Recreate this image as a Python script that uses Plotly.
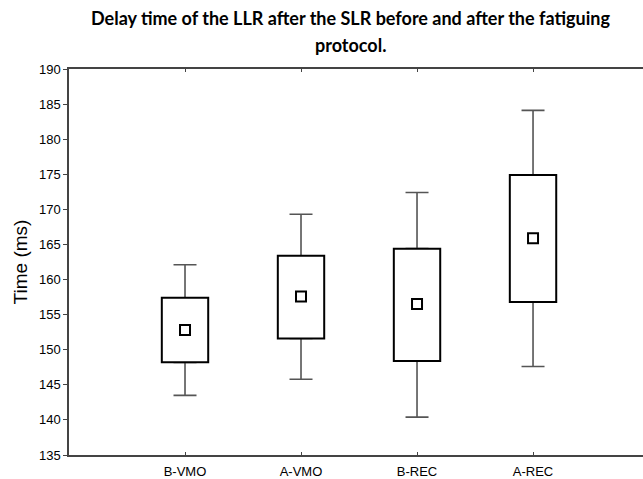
import plotly.graph_objects as go

# Groups and summary statistics (ms)
groups = ["B-VMO", "A-VMO", "B-REC", "A-REC"]
means = [152.8, 157.6, 156.5, 165.9]
box_low = [148.2, 151.6, 148.4, 156.8]
box_high = [157.4, 163.4, 164.4, 174.9]
whisker_low = [143.5, 145.8, 140.4, 147.6]
whisker_high = [162.1, 169.3, 172.4, 184.1]

y_ticks = list(range(135, 191, 5))

box_span = [h - l for h, l in zip(box_high, box_low)]
whisker_color = "#555555"
axis_color = "#444444"

fig = go.Figure()

# Upper whiskers: error bars rising from the top edge of each box
fig.add_trace(go.Bar(
    x=groups, base=box_low, y=box_span, width=0.4,
    marker=dict(color="rgba(0,0,0,0)", line=dict(width=0)),
    error_y=dict(type="data", symmetric=False,
                 array=[w - h for w, h in zip(whisker_high, box_high)],
                 arrayminus=[0] * len(groups),
                 color=whisker_color, thickness=1.6, width=11.5),
    showlegend=False, hoverinfo="skip",
))

# Lower whiskers: error bars falling from the bottom edge of each box
fig.add_trace(go.Bar(
    x=groups, base=box_high, y=[-s for s in box_span], width=0.4,
    marker=dict(color="rgba(0,0,0,0)", line=dict(width=0)),
    error_y=dict(type="data", symmetric=False,
                 array=[0] * len(groups),
                 arrayminus=[l - w for l, w in zip(box_low, whisker_low)],
                 color=whisker_color, thickness=1.6, width=11.5),
    showlegend=False, hoverinfo="skip",
))

# Boxes
fig.add_trace(go.Bar(
    x=groups, base=box_low, y=box_span, width=0.4,
    marker=dict(color="white", line=dict(color="black", width=2)),
    showlegend=False, hoverinfo="skip",
))

# Mean markers
fig.add_trace(go.Scatter(
    x=groups, y=means, mode="markers",
    marker=dict(symbol="square", size=10, color="white",
                line=dict(color="black", width=2)),
    showlegend=False, hoverinfo="skip",
))

title_font = dict(family="Lato, Carlito, sans-serif", size=18, color="black", weight="bold")
plot_h = 479 - 69 - 24
title_x = (350 - 69) / (643 - 69)
fig.add_annotation(
    text="Delay time of the LLR after the SLR before and after the fatiguing",
    xref="paper", yref="paper", x=title_x, y=1 + (69 - 18) / plot_h,
    xanchor="center", yanchor="middle", showarrow=False, font=title_font,
)
fig.add_annotation(
    text="protocol.",
    xref="paper", yref="paper", x=title_x, y=1 + (69 - 45) / plot_h,
    xanchor="center", yanchor="middle", showarrow=False, font=title_font,
)

fig.update_layout(
    width=643, height=479,
    margin=dict(l=69, r=0, t=69, b=24),
    paper_bgcolor="white", plot_bgcolor="white",
    barmode="overlay",
    font=dict(family="Liberation Sans", color="black", size=13),
    xaxis=dict(
        type="category", categoryorder="array", categoryarray=groups,
        tickmode="array", tickvals=groups, ticktext=groups,
        range=[-1.0, 3.948],
        showline=True, linecolor=axis_color, linewidth=1.5, mirror="ticks",
        ticks="inside", ticklen=3, tickcolor=axis_color, tickwidth=1,
        showgrid=False, zeroline=False,
        ticklabelstandoff=4,
        tickfont=dict(family="Liberation Sans", size=13),
    ),
    yaxis=dict(
        range=[135, 190], tickvals=y_ticks,
        showline=True, linecolor=axis_color, linewidth=1.5,
        ticks="outside", ticklen=4, tickcolor=axis_color, tickwidth=1,
        showgrid=False, zeroline=False,
        title=dict(text="Time (ms)", font=dict(family="Liberation Sans", size=19),
                   standoff=6),
        tickfont=dict(family="Liberation Sans", size=13),
    ),
)

fig.write_html("out.html")
